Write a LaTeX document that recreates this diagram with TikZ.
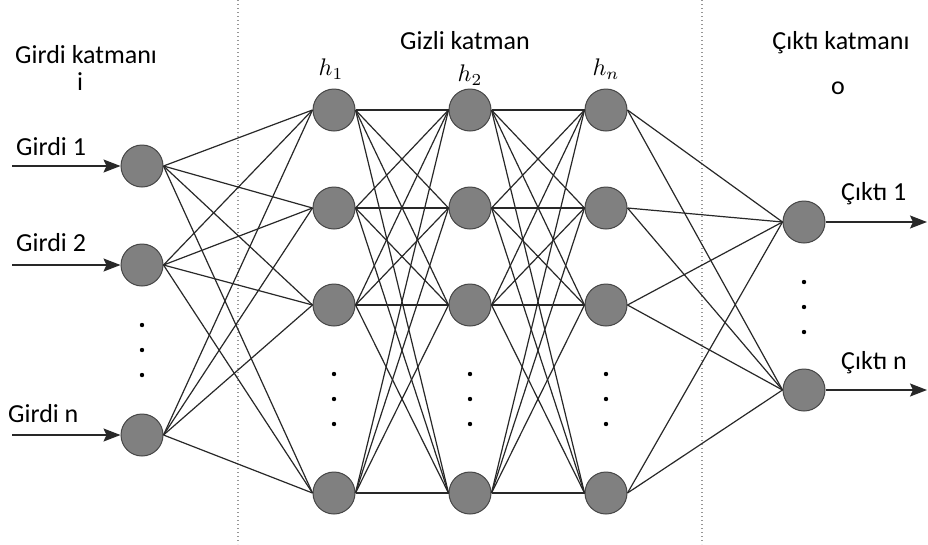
\documentclass[tikz,border=0pt]{standalone}
\usepackage{fontspec}
\setmainfont{Carlito}
\usetikzlibrary{arrows.meta}
\definecolor{nnFill}{RGB}{128,128,128}
\definecolor{nnEdge}{RGB}{70,70,70}
\definecolor{nnLine}{RGB}{40,40,40}
\definecolor{nnSep}{RGB}{150,150,150}
\newcommand{\hlab}[1]{\scalebox{2.4}{$#1$}}
\begin{document}
\begin{tikzpicture}[x=1pt, y=-1pt,
      neuron/.style={circle, draw=nnEdge, line width=1pt, fill=nnFill, minimum size=42pt, inner sep=0pt},
      link/.style={draw=nnLine, line width=1.2pt},
      arrow/.style={-{Stealth[length=17pt, width=13pt, inset=3pt]}, line width=1.5pt, draw=nnLine},
      txt/.style={font=\fontsize{26}{30}\selectfont, inner sep=0pt},
      hlabel/.style={inner sep=0pt},
      sep/.style={draw=nnSep, line width=1.2pt, dash pattern=on 1.2pt off 2.8pt}
    ]
    \useasboundingbox[fill=white] (0,0) rectangle (928,544);

    % separators
    \draw[sep] (238,0) -- (238,544);
    \draw[sep] (702,0) -- (702,544);

    % input layer
    \node[neuron] (i1) at (142,166) {};
    \node[neuron] (i2) at (142,265) {};
    \node[neuron] (i3) at (142,435) {};

    % hidden layers
    \foreach \n/\x in {a/334, b/470, c/606} {
      \node[neuron] (\n1) at (\x,110) {};
      \node[neuron] (\n2) at (\x,208) {};
      \node[neuron] (\n3) at (\x,305) {};
      \node[neuron] (\n4) at (\x,493) {};
    }

    % output layer
    \node[neuron] (o1) at (804,222) {};
    \node[neuron] (o2) at (804,390) {};

    % connections
    \foreach \s in {1,2,3}
      \foreach \t in {1,...,4}
        \draw[link] (i\s.east) -- (a\t.west);
    \foreach \s in {1,...,4}
      \foreach \t in {1,...,4} {
        \draw[link] (a\s.east) -- (b\t.west);
        \draw[link] (b\s.east) -- (c\t.west);
      }
    \foreach \s in {1,...,4}
      \foreach \t in {1,2}
        \draw[link] (c\s.east) -- (o\t.west);

    % dots
    \foreach \y in {325,350,375} \fill (142,\y) circle (2.2pt);
    \foreach \x in {334,470,606}
      \foreach \y in {374,399,424} \fill (\x,\y) circle (2.2pt);
    \foreach \y in {282,307,332} \fill (804,\y) circle (2.2pt);

    % inputs and outputs
    \coordinate (in1) at (12,166);
    \coordinate (in2) at (12,265);
    \coordinate (in3) at (12,435);
    \coordinate (out1) at (927,222);
    \coordinate (out2) at (927,390);
    \draw[arrow] (in1) -- (i1);
    \draw[arrow] (in2) -- (i2);
    \draw[arrow] (in3) -- (i3);
    \draw[arrow] (o1) -- (out1);
    \draw[arrow] (o2) -- (out2);

    % labels
    \node[txt, anchor=west] (lin) at (15,55) {Girdi katmanı};
    \node[txt] (li) at (80,82) {i};
    \node[txt] (lhid) at (465,41) {Gizli katman};
    \node[txt] (lout) at (841,43) {Çıktı katmanı};
    \node[txt] (lo) at (838,88) {o};
    \node[hlabel] (h1) at (331,69) {\hlab{h_1}};
    \node[hlabel] (h2) at (470,75) {\hlab{h_2}};
    \node[hlabel] (hn) at (606,69) {\hlab{h_n}};
    \node[txt, anchor=west] (g1) at (16,147) {Girdi 1};
    \node[txt, anchor=west] (g2) at (16,243) {Girdi 2};
    \node[txt, anchor=west] (gn) at (8,414) {Girdi n};
    \node[txt, anchor=west] (c1) at (841,194) {Çıktı 1};
    \node[txt, anchor=west] (cn) at (841,363) {Çıktı n};
  \end{tikzpicture}
\end{document}
